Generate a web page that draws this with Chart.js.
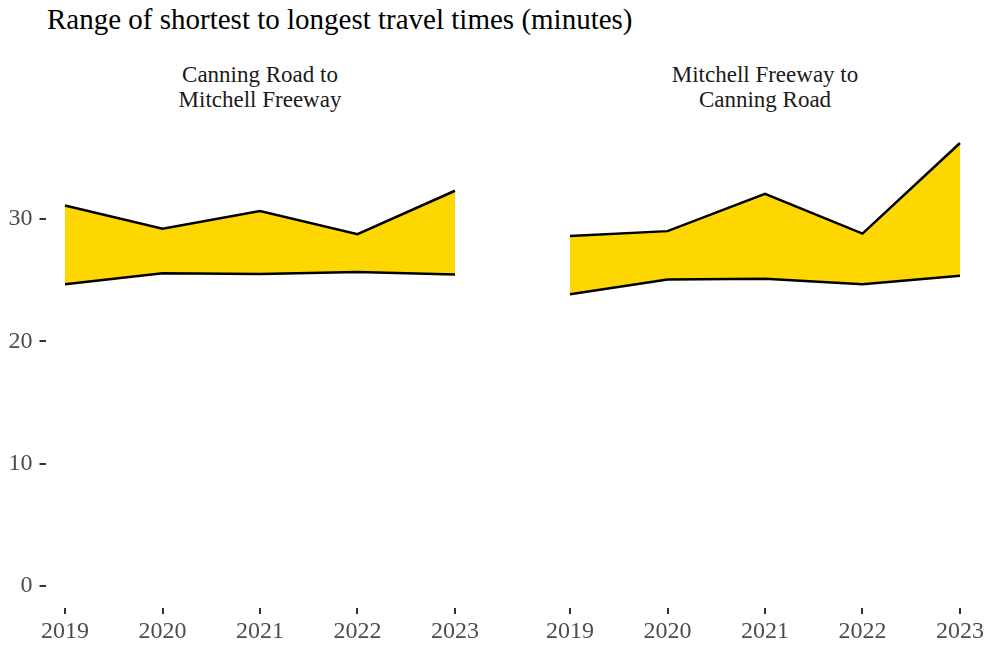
<!DOCTYPE html>
<html>
<head>
<meta charset="utf-8">
<script src="https://cdn.jsdelivr.net/npm/chart.js@4/dist/chart.umd.min.js"></script>
<style>
  html, body { margin: 0; padding: 0; background: #ffffff; }
  body { width: 989px; height: 653px; position: relative; overflow: hidden; font-family: "Liberation Serif", serif; }
  #title { position: absolute; left: 47px; top: 5px; font-size: 29px; line-height: 29px; color: #000; white-space: nowrap; }
  .strip { position: absolute; top: 62px; width: 429px; text-align: center; font-size: 23px; line-height: 25px; color: #1a1a1a; }
  .panel { position: absolute; top: 110px; height: 543px; }
</style>
</head>
<body>
<div id="title">Range of shortest to longest travel times (minutes)</div>
<div class="strip" style="left:45.5px">Canning Road to<br>Mitchell Freeway</div>
<div class="strip" style="left:550.5px">Mitchell Freeway to<br>Canning Road</div>
<div class="panel" style="left:0px;width:490px"><canvas id="c1" width="490" height="543"></canvas></div>
<div class="panel" style="left:540px;width:449px"><canvas id="c2" width="449" height="543"></canvas></div>
<script>
const years = [2019, 2020, 2021, 2022, 2023];
const yTicks = [0, 10, 20, 30];

// Canning Road to Mitchell Freeway
const cmMax = [31.1, 29.2, 30.65, 28.75, 32.3];
const cmMin = [24.65, 25.55, 25.5, 25.65, 25.45];

// Mitchell Freeway to Canning Road
const mcMax = [28.6, 29.0, 32.05, 28.8, 36.2];
const mcMin = [23.85, 25.05, 25.1, 24.65, 25.35];

const FONT = "'Liberation Serif', serif";

function makeChart(id, maxArr, minArr, showY, padding) {
  const toPts = arr => years.map((yr, i) => ({ x: yr, y: arr[i] }));
  return new Chart(document.getElementById(id), {
    type: 'line',
    data: {
      datasets: [
        {
          data: toPts(maxArr),
          borderColor: '#000000',
          borderWidth: 2.5,
          backgroundColor: '#FFD700',
          fill: '+1',
          pointRadius: 0,
          tension: 0
        },
        {
          data: toPts(minArr),
          borderColor: '#000000',
          borderWidth: 2.5,
          backgroundColor: '#FFD700',
          fill: false,
          pointRadius: 0,
          tension: 0
        }
      ]
    },
    options: {
      responsive: false,
      animation: false,
      layout: { padding: padding },
      plugins: {
        legend: { display: false },
        tooltip: { enabled: false },
        title: { display: false },
        filler: { drawTime: 'beforeDatasetsDraw' }
      },
      scales: {
        x: {
          type: 'linear',
          min: 2018.8,
          max: 2023.2,
          border: { display: false },
          grid: { display: true, drawOnChartArea: false, drawTicks: true, tickLength: 6, color: '#333333', lineWidth: 2 },
          ticks: { color: '#4d4d4d', font: { family: FONT, size: 24 }, padding: 3, maxRotation: 0, autoSkip: false, callback: v => String(v) },
          afterBuildTicks: s => { s.ticks = years.map(v => ({ value: v })); },
          afterFit: s => { s.height = 45; s.paddingLeft = 0; s.paddingRight = 0; }
        },
        y: {
          display: showY,
          min: -1.8,
          max: 38.0,
          border: { display: false },
          grid: { display: true, drawOnChartArea: false, drawTicks: true, tickLength: 6, color: '#333333', lineWidth: 2 },
          ticks: { color: '#4d4d4d', font: { family: FONT, size: 24 }, padding: 7, callback: v => String(v) },
          afterBuildTicks: s => { s.ticks = yTicks.map(v => ({ value: v })); },
          afterFit: s => { if (showY) { s.width = 45.5; } s.paddingTop = 0; s.paddingBottom = 0; }
        }
      }
    }
  });
}

makeChart('c1', cmMax, cmMin, true, { top: 11, right: 15.5, left: 0, bottom: 0 });
makeChart('c2', mcMax, mcMin, false, { top: 11, right: 9.5, left: 10.5, bottom: 0 });
</script>
</body>
</html>
